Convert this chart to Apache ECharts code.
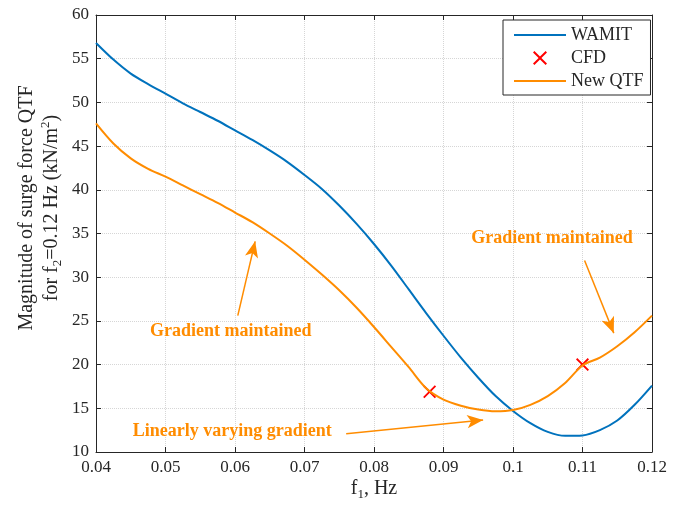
<!DOCTYPE html>
<html><head><meta charset="utf-8">
<script src="https://cdn.jsdelivr.net/npm/echarts/dist/echarts.min.js"></script>
<style>html,body{margin:0;padding:0;background:#fff}#c{width:683px;height:511px}</style>
</head><body><div id="c"></div>
<script>
// ---- data ----
const freqF = [0.0400,0.0425,0.0450,0.0475,0.0500,0.0525,0.0550,0.0575,0.0600,0.0625,0.0650,0.0675,0.0700,0.0725,0.0750,0.0775,0.0800,0.0825,0.0850,0.0875,0.0900,0.0925,0.0950,0.0975,0.1000,0.1025,0.1050,0.1075,0.1100,0.1125,0.1150,0.1175,0.1200];
const wamitY = [56.8,54.9,53.3,52.1,51.0,49.9,48.9,47.9,46.8,45.7,44.5,43.2,41.7,40.1,38.2,36.1,33.8,31.3,28.6,25.9,23.3,20.8,18.5,16.4,14.7,13.3,12.3,11.85,11.9,12.5,13.6,15.4,17.6];
const qtfY = [47.6,45.3,43.6,42.4,41.5,40.5,39.5,38.5,37.4,36.3,35.0,33.6,32.0,30.3,28.5,26.5,24.3,22.0,19.7,17.3,16.0,15.3,14.85,14.65,14.8,15.4,16.4,17.9,19.9,20.8,22.1,23.7,25.6];
const cfdF = [0.088, 0.110];
const cfdY = [16.9, 20.0];
const xMin = 0.04, xMax = 0.12, xStep = 0.01;
const yMin = 10, yMax = 60, yStep = 5;
// annotations (data units)
const arrows = [
  [[0.0604, 25.6], [0.0629, 34.1]],
  [[0.1103, 31.9], [0.1145, 23.6]],
  [[0.0760, 12.1], [0.0957, 13.65]]
];
const notes = [
  {text: 'Gradient maintained', at: [0.0594, 23.8]},
  {text: 'Gradient maintained', at: [0.1056, 34.5]},
  {text: 'Linearly varying gradient', at: [0.0596, 12.4]}
];

const BLUE = '#0072BD', ORANGE = '#FF8C00', RED = '#FF0000', DARK = '#262626';
const FONT = '"Liberation Serif", "Times New Roman", serif';
const zip = (a, b) => a.map((v, i) => [v, b[i]]);
const XPATH = 'path://M1,0L5,4L9,0L10,1L6,5L10,9L9,10L5,6L1,10L0,9L4,5L0,1Z';

const chart = echarts.init(document.getElementById('c'), null, {renderer: 'canvas'});
const fmt = v => String(Math.round(v * 100) / 100);
const axisCommon = {
  axisLine: {show: true, onZero: false, lineStyle: {color: DARK, width: 1}},
  axisTick: {show: true, inside: true, length: 5, lineStyle: {color: DARK, width: 1}},
};
const option = {
  animation: false,
  backgroundColor: '#fff',
  grid: {left: 96, right: 31, top: 15, bottom: 59, containLabel: false},
  xAxis: [
    Object.assign({type: 'value', min: xMin, max: xMax, interval: xStep, position: 'bottom',
      axisLabel: {formatter: fmt, fontFamily: FONT, fontSize: 17, color: DARK, margin: 7},
      splitLine: {show: true, lineStyle: {color: '#d6d6d6', type: 'dotted', width: 1}}}, axisCommon),
    Object.assign({type: 'value', min: xMin, max: xMax, interval: xStep, position: 'top',
      axisLabel: {show: false}, splitLine: {show: false}}, axisCommon)
  ],
  yAxis: [
    Object.assign({type: 'value', min: yMin, max: yMax, interval: yStep, position: 'left',
      axisLabel: {fontFamily: FONT, fontSize: 17, color: DARK, margin: 7},
      splitLine: {show: true, lineStyle: {color: '#d6d6d6', type: 'dotted', width: 1}}}, axisCommon),
    Object.assign({type: 'value', min: yMin, max: yMax, interval: yStep, position: 'right',
      axisLabel: {show: false}, splitLine: {show: false}}, axisCommon)
  ],
  legend: {
    orient: 'vertical', left: 503, top: 20,
    padding: [4, 7, 3, 10], itemGap: 1, itemWidth: 52, itemHeight: 14,
    borderColor: DARK, borderWidth: 1, backgroundColor: '#fff',
    textStyle: {fontFamily: FONT, fontSize: 18, color: DARK, lineHeight: 22},
    data: [
      {name: 'WAMIT', itemStyle: {opacity: 0}, lineStyle: {color: BLUE, width: 2, opacity: 1}},
      {name: 'CFD'},
      {name: 'New QTF', itemStyle: {opacity: 0}, lineStyle: {color: ORANGE, width: 2, opacity: 1}}
    ],
    selectedMode: false
  },
  series: [
    {name: 'WAMIT', type: 'line', data: zip(freqF, wamitY), symbol: 'none', smooth: 0.3,
      lineStyle: {color: BLUE, width: 2}, itemStyle: {color: BLUE}, z: 2},
    {name: 'CFD', type: 'scatter', data: zip(cfdF, cfdY), symbol: XPATH, symbolSize: 13,
      itemStyle: {color: RED, opacity: 1}, z: 3},
    {name: 'New QTF', type: 'line', data: zip(freqF, qtfY), symbol: 'none', smooth: 0.3,
      lineStyle: {color: ORANGE, width: 2}, itemStyle: {color: ORANGE}, z: 4,
      markLine: {silent: true, animation: false, symbol: ['none', 'arrow'], symbolSize: [10, 16],
        lineStyle: {color: ORANGE, width: 1.5, type: 'solid'}, label: {show: false},
        emphasis: {disabled: true},
        data: arrows.map(a => [{coord: a[0]}, {coord: a[1]}])}}
  ]
};
chart.setOption(option);

const graphics = notes.map(n => {
  const p = chart.convertToPixel({xAxisIndex: 0, yAxisIndex: 0}, n.at);
  return {type: 'text', x: p[0], y: p[1], z: 10,
    style: {text: n.text, fill: ORANGE, font: 'bold 18px ' + FONT, align: 'center', verticalAlign: 'middle'}};
});
const rich = {
  a: {fontSize: 20, fontFamily: FONT, fill: DARK, lineHeight: 25, verticalAlign: 'middle'},
  sub: {fontSize: 13, fontFamily: FONT, fill: DARK, lineHeight: 25, verticalAlign: 'bottom'},
  sup: {fontSize: 13, fontFamily: FONT, fill: DARK, lineHeight: 25, verticalAlign: 'top'}
};
graphics.push({type: 'text', x: 39, y: 208, rotation: Math.PI / 2, z: 10,
  style: {text: '{a|Magnitude of surge force QTF}\n{a|for f}{sub|2}{a|=0.12 Hz (kN/m}{sup|2}{a|)}',
    rich: rich, align: 'center', verticalAlign: 'middle', fill: DARK, font: '20px ' + FONT}});
graphics.push({type: 'text', x: 374, y: 489, z: 10,
  style: {text: '{a|f}{sub|1}{a|, Hz}', rich: rich, align: 'center', verticalAlign: 'middle', fill: DARK, font: '20px ' + FONT}});
chart.setOption({graphic: graphics});
</script>
</body></html>
